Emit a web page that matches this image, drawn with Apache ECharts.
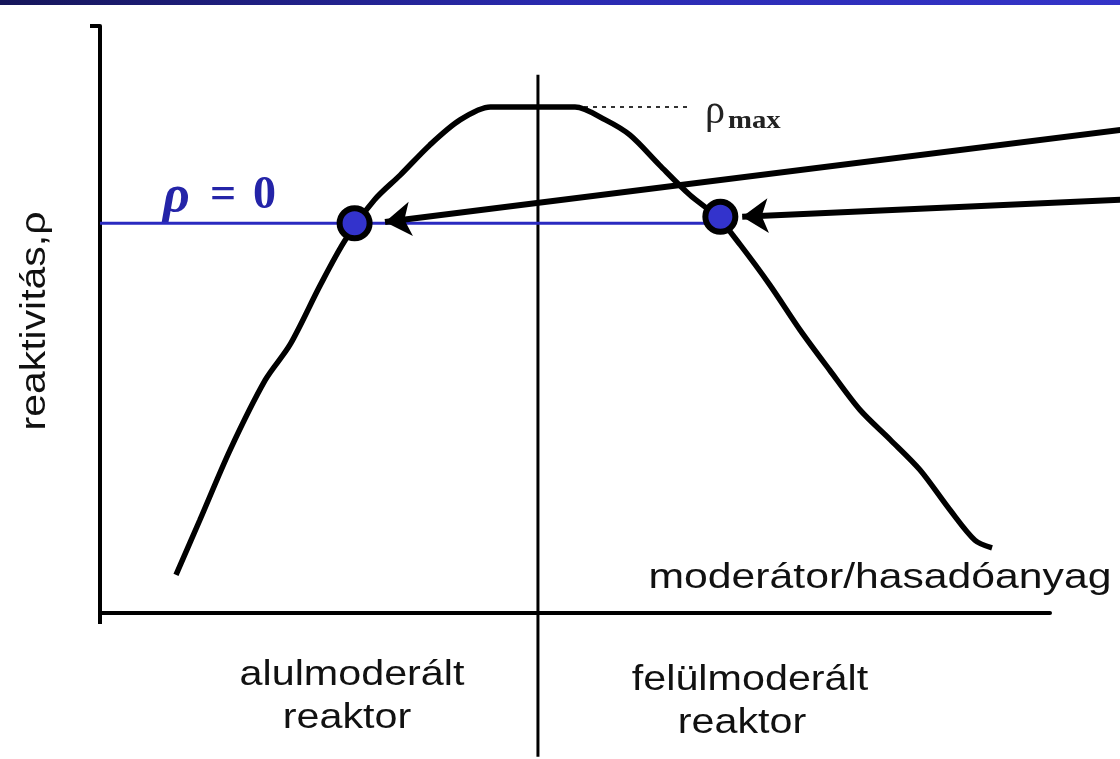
<!DOCTYPE html>
<html>
<head>
<meta charset="utf-8">
<script src="https://cdn.jsdelivr.net/npm/echarts@6/dist/echarts.min.js"></script>
<style>
  html, body { margin: 0; padding: 0; background: #fff; }
  #main { width: 1120px; height: 759px; }
</style>
</head>
<body>
<div id="main"></div>
<script>
// reactivity curve (abstract units)
const curveX = [0.80, 1.05, 1.37, 1.74, 2.00, 2.32, 2.58, 2.89, 3.16, 3.47, 3.79, 4.11, 5.00, 5.32, 5.58, 5.89, 6.21, 6.51, 6.74, 7.05, 7.37, 7.68, 8.00, 8.32, 8.63, 8.95, 9.21, 9.39];
const curveY = [0.65, 1.58, 2.78, 3.97, 4.57, 5.59, 6.35, 7.04, 7.46, 7.97, 8.40, 8.62, 8.62, 8.40, 8.14, 7.63, 7.12, 6.73, 6.27, 5.59, 4.82, 4.14, 3.46, 2.95, 2.44, 1.75, 1.24, 1.11];

// rho = 0 line and the two critical points
const zeroLevel = 6.64;
const zeroLineX = [0, 6.53];
const pointsX = [2.68, 6.53];
const pointsY = [6.64, 6.75];

// arrows from right edge to the points
const arrowFrom = [[10.74, 8.23], [10.74, 7.04]];
const arrowTo = [[3.00, 6.66], [6.76, 6.75]];

// rho max dotted line
const rhoMax = 8.62;
const rhoMaxX = [5.0, 6.21];

// optimum divider
const dividerX = 4.61;
const dividerY = [-2.45, 9.17];

const myChart = echarts.init(document.getElementById('main'));

// label text style (stretched Arial look)
const sans = '35px "Liberation Sans"';
const ink = '#111';

const option = {
    animation: false,
    grid: { left: 100, right: 70, top: 26, bottom: 146 },
    xAxis: {
        type: 'value',
        min: 0,
        max: 10,
        interval: 10,
        splitLine: { show: false },
        axisLabel: { show: false },
        axisLine: { lineStyle: { color: '#000', width: 4 } },
        axisTick: { show: true, length: 11, customValues: [0], lineStyle: { color: '#000', width: 4 } }
    },
    yAxis: {
        type: 'value',
        min: 0,
        max: 10,
        interval: 10,
        splitLine: { show: false },
        axisLabel: { show: false },
        axisLine: { lineStyle: { color: '#000', width: 4 } },
        axisTick: { show: true, length: 10, customValues: [10], lineStyle: { color: '#000', width: 4 } }
    },
    graphic: [
        {
            type: 'rect',
            shape: { x: 0, y: 0, width: 1120, height: 5 },
            style: {
                fill: new echarts.graphic.LinearGradient(0, 0, 1, 0, [
                    { offset: 0, color: '#16165a' },
                    { offset: 0.5, color: '#2a2ab0' },
                    { offset: 1, color: '#3434c8' }
                ])
            }
        },
        // rho = 0
        {
            type: 'text',
            x: 163, y: 172,
            style: { text: 'ρ', font: 'italic bold 52px "Liberation Serif"', fill: '#2424a8' }
        },
        {
            type: 'text',
            x: 210, y: 173,
            style: { text: '=', font: 'bold 46px "Liberation Serif"', fill: '#2424a8' }
        },
        {
            type: 'text',
            x: 253, y: 173,
            style: { text: '0', font: 'bold 46px "Liberation Serif"', fill: '#2424a8' }
        },
        // rho max
        {
            type: 'text',
            x: 705, y: 92,
            style: { text: 'ρ', font: '40px "Liberation Serif"', fill: '#222' }
        },
        {
            type: 'text',
            x: 728, y: 109,
            scaleX: 1.15,
            style: { text: 'max', font: 'bold 25px "Liberation Serif"', fill: '#222' }
        },
        {
            type: 'text',
            x: 35, y: 321,
            rotation: Math.PI / 2,
            scaleX: 1.17,
            style: { text: 'reaktivitás,ρ', font: sans, fill: ink, align: 'center', verticalAlign: 'middle' }
        },
        {
            type: 'text',
            x: 880, y: 578,
            scaleX: 1.22,
            style: { text: 'moderátor/hasadóanyag', font: sans, fill: ink, align: 'center', verticalAlign: 'middle' }
        },
        {
            type: 'text',
            x: 352, y: 675,
            scaleX: 1.18,
            style: { text: 'alulmoderált', font: sans, fill: ink, align: 'center', verticalAlign: 'middle' }
        },
        {
            type: 'text',
            x: 347, y: 718,
            scaleX: 1.18,
            style: { text: 'reaktor', font: sans, fill: ink, align: 'center', verticalAlign: 'middle' }
        },
        {
            type: 'text',
            x: 750, y: 680,
            scaleX: 1.18,
            style: { text: 'felülmoderált', font: sans, fill: ink, align: 'center', verticalAlign: 'middle' }
        },
        {
            type: 'text',
            x: 742, y: 723,
            scaleX: 1.18,
            style: { text: 'reaktor', font: sans, fill: ink, align: 'center', verticalAlign: 'middle' }
        }
    ],
    series: [
        {
            name: 'divider',
            type: 'line',
            clip: false,
            symbol: 'none',
            lineStyle: { color: '#000', width: 3 },
            data: dividerY.map(y => [dividerX, y]),
            z: 2
        },
        {
            name: 'rhoMax',
            type: 'line',
            symbol: 'none',
            lineStyle: { color: '#333', width: 2, type: [4, 5] },
            data: rhoMaxX.map(x => [x, rhoMax]),
            z: 2
        },
        {
            name: 'zero',
            type: 'line',
            symbol: 'none',
            lineStyle: { color: '#2a2ac0', width: 3 },
            data: zeroLineX.map(x => [x, zeroLevel]),
            z: 3
        },
        {
            name: 'reaktivitás',
            type: 'line',
            smooth: 0.3,
            symbol: 'none',
            lineStyle: { color: '#000', width: 5.5 },
            data: curveX.map((x, i) => [x, curveY[i]]),
            z: 4
        },
        {
            name: 'arrows',
            type: 'lines',
            coordinateSystem: 'cartesian2d',
            clip: false,
            symbol: ['none', 'arrow'],
            symbolSize: [0, 26],
            lineStyle: { color: '#000', width: 6, opacity: 1 },
            data: arrowFrom.map((p, i) => ({ coords: [p, arrowTo[i]] })),
            z: 5
        },
        {
            name: 'points',
            type: 'scatter',
            symbolSize: 30,
            itemStyle: { color: '#3333cc', borderColor: '#000', borderWidth: 6, opacity: 1 },
            data: pointsX.map((x, i) => [x, pointsY[i]]),
            z: 6
        }
    ]
};

option && myChart.setOption(option);
</script>
</body>
</html>
